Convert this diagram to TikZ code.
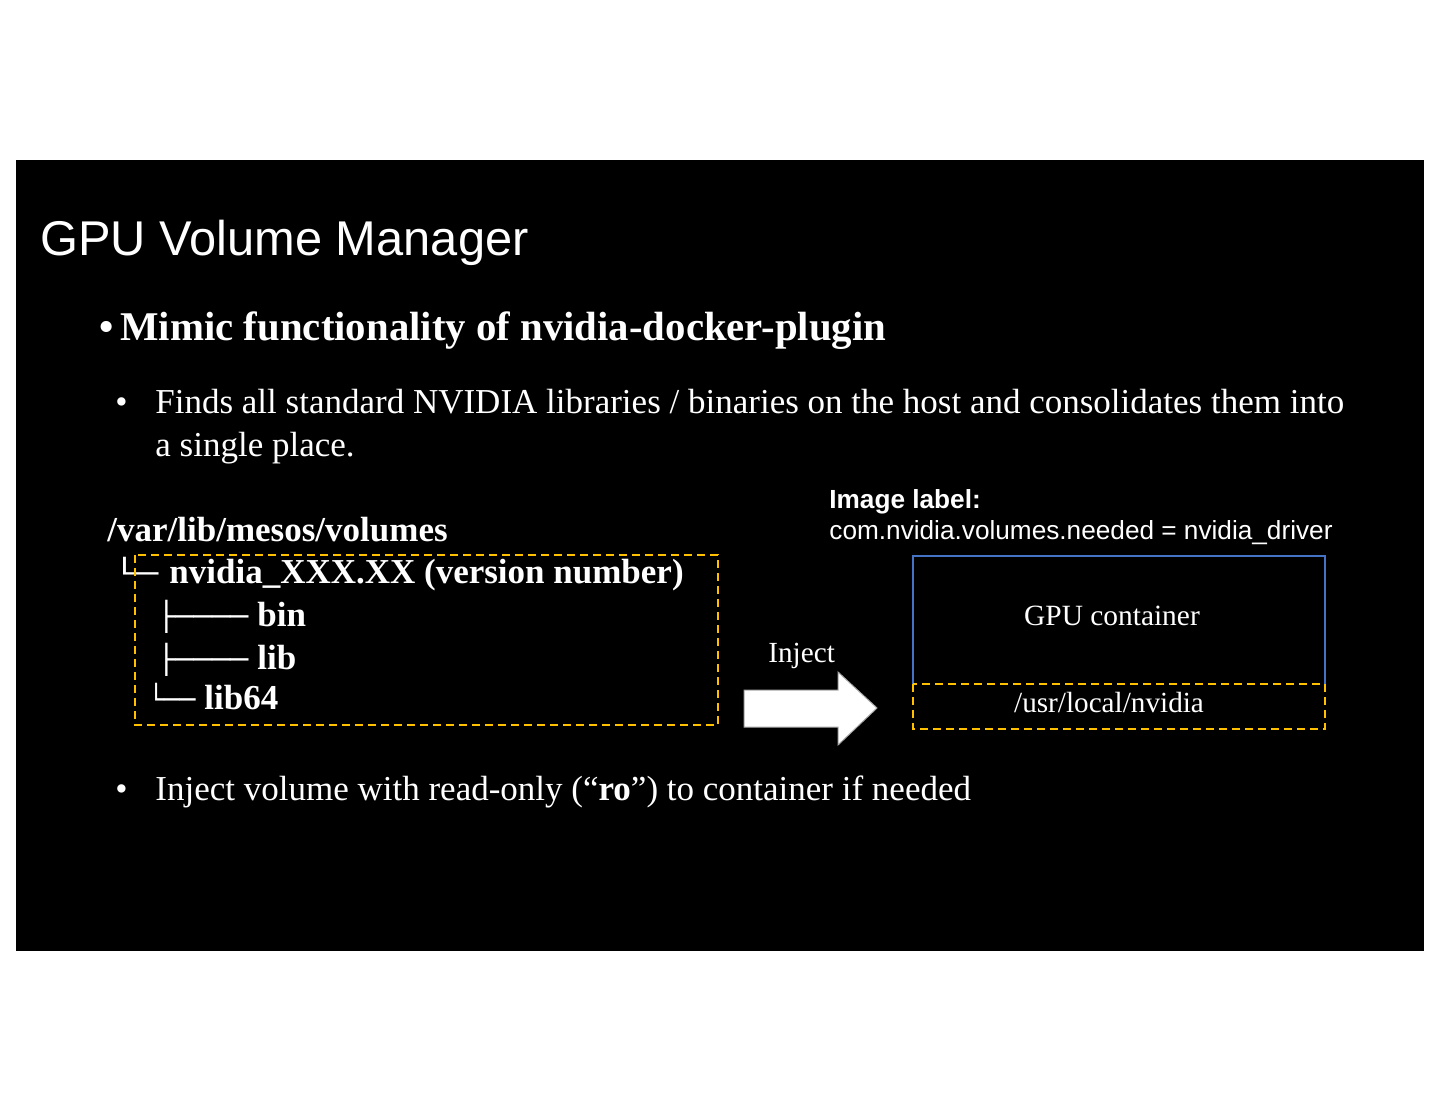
\documentclass[tikz,border=0pt]{standalone}
\usepackage{fontspec}
\setmainfont{Liberation Serif}
\setsansfont{Liberation Sans}
\newfontfamily\boxfont{DejaVu Sans}
\definecolor{gold}{RGB}{255,192,0}
\definecolor{cblue}{RGB}{68,114,196}
\begin{document}
\begin{tikzpicture}[x=0.5pt,y=-0.5pt,
  txt/.style={inner sep=0pt, text=white, anchor=base west},
  fsz/.style={font=\fontsize{#1}{#1}\selectfont},
  treetxt/.style={txt, font=\bfseries\fontsize{17.5}{19}\selectfont},
  treeline/.style={txt, font=\boxfont\fontsize{14}{15}\selectfont},
  dashbox/.style={draw=gold, line width=1.2pt, dash pattern=on 4pt off 2.5pt},
  bluebox/.style={draw=cblue, line width=1.2pt}]
\fill[white] (0,0) rectangle (1440,1113);
\fill[black] (16,160) rectangle (1424,951);
% title
\node[txt, font=\sffamily\fontsize{24.4}{26}\selectfont] (title) at (40,255) {GPU Volume Manager};
% main bullet
\node[txt, font=\bfseries\fontsize{20.4}{22}\selectfont] (b1) at (99,340) {\textbullet\,Mimic functionality of nvidia-docker-plugin};
% sub bullet 1
\node[txt, fsz=17.5] (dot1) at (115,413) {\textbullet};
\node[txt, fsz=17.5] (s1a) at (155,413) {Finds all standard NVIDIA libraries / binaries on the host and consolidates them into};
\node[txt, fsz=17.5] (s1b) at (155,456) {a single place.};
% tree
\node[treetxt] (root) at (107,541) {/var/lib/mesos/volumes};
\node[treeline] (l1) at (113,583) {\scalebox{1.33}[1]{└─}};
\node[treetxt] (t1) at (169,583) {nvidia\_XXX.XX (version number)};
\node[treeline] (l2) at (157,626) {\scalebox{1.08}[1]{├────}};
\node[treetxt] (t2) at (257,626) {bin};
\node[treeline] (l3) at (157,669) {\scalebox{1.08}[1]{├────}};
\node[treetxt] (t3) at (257,669) {lib};
\node[treeline] (l4) at (148,709) {\scalebox{0.93}[1]{└──}};
\node[treetxt] (t4) at (204,709) {lib64};
\draw[dashbox] (135,555) rectangle (718,725);
% inject arrow
\node[txt, fsz=14.6] (inj) at (768,662) {Inject};
\path[fill=white, draw=gray!70, line width=0.5pt] (744,690) -- (838,690) -- (838,672) -- (877,708) -- (838,745) -- (838,727) -- (744,727) -- cycle;
% image label
\node[txt, font=\sffamily\bfseries\fontsize{13.1}{15}\selectfont] (lab1) at (829,508) {Image label:};
\node[txt, font=\sffamily\fontsize{13.1}{15}\selectfont] (lab2) at (829,539) {com.nvidia.volumes.needed = nvidia\_driver};
% container
\draw[bluebox] (913,684) -- (913,556) -- (1325,556) -- (1325,684);
\node[txt, anchor=base, fsz=14.7] (gpu) at (1112,625) {GPU container};
\draw[dashbox] (913,684) rectangle (1325,729);
\node[txt, anchor=base, fsz=14.6] (usr) at (1109,712) {/usr/local/nvidia};
% sub bullet 2
\node[txt, fsz=17.5] (dot2) at (115,800) {\textbullet};
\node[txt, fsz=17.5] (s2) at (155,800) {Inject volume with read-only (“\textbf{ro}”) to container if needed};
\end{tikzpicture}
\end{document}
